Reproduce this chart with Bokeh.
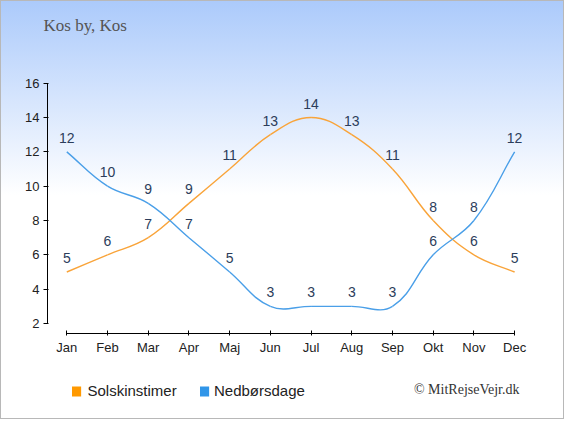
import numpy as np
from bokeh.plotting import figure
from bokeh.models import (Range1d, LinearAxis, FixedTicker, Label, ColumnDataSource)
from bokeh.core.properties import value
from bokeh.embed import file_html
from bokeh.resources import INLINE

# ---------------- data ----------------
months = ["Jan", "Feb", "Mar", "Apr", "Maj", "Jun", "Jul", "Aug", "Sep", "Okt", "Nov", "Dec"]
sun_hours = [5, 6, 7, 9, 11, 13, 14, 13, 11, 8, 6, 5]
rain_days = [12, 10, 9, 7, 5, 3, 3, 3, 3, 6, 8, 12]
y_ticks = [2, 4, 6, 8, 10, 12, 14, 16]
title_text = "Kos by, Kos"
credit_text = "© MitRejseVejr.dk"
series_names = ["Solskinstimer", "Nedbørsdage"]

# ---------------- layout ----------------
W, H = 564, 419
B_LEFT, B_RIGHT, B_TOP, B_BOTTOM = 47, 34, 80, 86
X0, X1 = -0.474, 11.39
Y0, Y1 = 1.417, 16.157
FW = W - B_LEFT - B_RIGHT
FH = H - B_TOP - B_BOTTOM
KX = FW / (X1 - X0)
KY = FH / (Y1 - Y0)

SUN_COLOR = "#f9a43a"
RAIN_COLOR = "#4a9fe8"
SUN_BOX = "#ff9900"
RAIN_BOX = "#3095e8"
LABEL_COLOR = "#2c3d5b"

p = figure(width=W, height=H, output_backend="svg", toolbar_location=None,
           x_range=Range1d(X0, X1), y_range=Range1d(Y0, Y1),
           x_axis_type=None, y_axis_type=None,
           min_border_left=B_LEFT, min_border_right=B_RIGHT,
           min_border_top=B_TOP, min_border_bottom=B_BOTTOM)
p.outline_line_color = None
p.background_fill_alpha = 0
p.border_fill_alpha = 0
p.styles = {"background": "linear-gradient(180deg, #abcafb 0px, #ffffff 195px)",
            "box-shadow": "inset 0 0 0 1px #b8b8b8"}


def dx(fx):
    return X0 + (fx - B_LEFT) / KX


def dy(fy):
    return Y1 - (fy - B_TOP) / KY


# axes
xaxis = LinearAxis(ticker=FixedTicker(ticks=list(range(len(months)))),
                   major_label_overrides={i: m for i, m in enumerate(months)},
                   bounds=(0, len(months) - 1))
xaxis.major_tick_in = 3
xaxis.major_tick_out = 2
xaxis.minor_tick_line_color = None
xaxis.axis_line_color = "black"
xaxis.major_tick_line_color = "black"
xaxis.major_label_text_font = "Liberation Sans"
xaxis.major_label_text_font_size = "13px"
xaxis.major_label_text_color = "#222222"
xaxis.major_label_standoff = 4
p.add_layout(xaxis, "below")

yaxis = LinearAxis(ticker=FixedTicker(ticks=y_ticks), bounds=(min(y_ticks), max(y_ticks)))
yaxis.major_tick_in = 1
yaxis.major_tick_out = 4
yaxis.minor_tick_line_color = None
yaxis.axis_line_color = "black"
yaxis.major_tick_line_color = "black"
yaxis.major_label_text_font = "Liberation Sans"
yaxis.major_label_text_font_size = "13px"
yaxis.major_label_text_color = "#222222"
yaxis.major_label_standoff = 4
p.add_layout(yaxis, "left")

# title (side-panel label, positioned in data units so it is not clipped)
p.add_layout(Label(x=dx(43), y=dy(25), text=title_text, text_align="left",
                   text_baseline="middle", text_font="Liberation Serif",
                   text_font_size="17px", text_color="#555555"), "above")


def spline_source(xs, ys, t=0.4):
    px = np.asarray(xs, float) * KX
    py = np.asarray(ys, float) * KY
    n = len(px)
    cpp, cpn = [], []
    for i in range(n):
        a = max(i - 1, 0)
        b = min(i + 1, n - 1)
        d01 = np.hypot(px[i] - px[a], py[i] - py[a])
        d12 = np.hypot(px[b] - px[i], py[b] - py[i])
        s = d01 + d12
        s01 = d01 / s if s else 0
        s12 = d12 / s if s else 0
        fa, fb = t * s01, t * s12
        ddx, ddy = px[b] - px[a], py[b] - py[a]
        cpp.append((px[i] - fa * ddx, py[i] - fa * ddy))
        cpn.append((px[i] + fb * ddx, py[i] + fb * ddy))
    d = dict(x0=[], y0=[], x1=[], y1=[], cx0=[], cy0=[], cx1=[], cy1=[])
    for i in range(n - 1):
        d["x0"].append(xs[i]); d["y0"].append(ys[i])
        d["x1"].append(xs[i + 1]); d["y1"].append(ys[i + 1])
        d["cx0"].append(cpn[i][0] / KX); d["cy0"].append(cpn[i][1] / KY)
        d["cx1"].append(cpp[i + 1][0] / KX); d["cy1"].append(cpp[i + 1][1] / KY)
    return ColumnDataSource(d)


xs = list(range(len(months)))
p.bezier(x0="x0", y0="y0", x1="x1", y1="y1", cx0="cx0", cy0="cy0", cx1="cx1", cy1="cy1",
         source=spline_source(xs, sun_hours), line_color=SUN_COLOR, line_width=1.4)
p.bezier(x0="x0", y0="y0", x1="x1", y1="y1", cx0="cx0", cy0="cy0", cx1="cx1", cy1="cy1",
         source=spline_source(xs, rain_days), line_color=RAIN_COLOR, line_width=1.4)

# data labels
for vals in (sun_hours, rain_days):
    src = ColumnDataSource(dict(x=xs, y=vals, t=[str(v) for v in vals]))
    p.text(x="x", y="y", text="t", source=src, y_offset=-14,
           text_align="center", text_baseline="middle",
           text_font=value("Liberation Sans"), text_font_size="14px",
           text_color=LABEL_COLOR)

# legend: square swatches (filled label boxes, kept in the top panel so the
# bottom panel does not grow) + labels in the bottom panel
for (sx0, tx), name, col in zip([(69.5, 87), (197.5, 213.5)], series_names, [SUN_BOX, RAIN_BOX]):
    p.add_layout(Label(x=dx(sx0 + 2), y=dy(391), text="\u25a0", text_align="left",
                       text_baseline="middle", text_font="Liberation Sans",
                       text_font_size="8.5px", text_color=col,
                       background_fill_color=col, background_fill_alpha=1,
                       padding=dict(left=2, right=2, top=0, bottom=0)), "above")
    p.add_layout(Label(x=dx(tx), y=dy(390), text=name, text_align="left",
                       text_baseline="middle", text_font="Liberation Sans",
                       text_font_size="15px", text_color="#222222"), "below")

# credit
p.add_layout(Label(x=dx(519), y=dy(389), text=credit_text, text_align="right",
                   text_baseline="middle", text_font="Liberation Serif",
                   text_font_size="14px", text_color="#333333"), "below")

open("out.html", "w").write(file_html(p, INLINE))
